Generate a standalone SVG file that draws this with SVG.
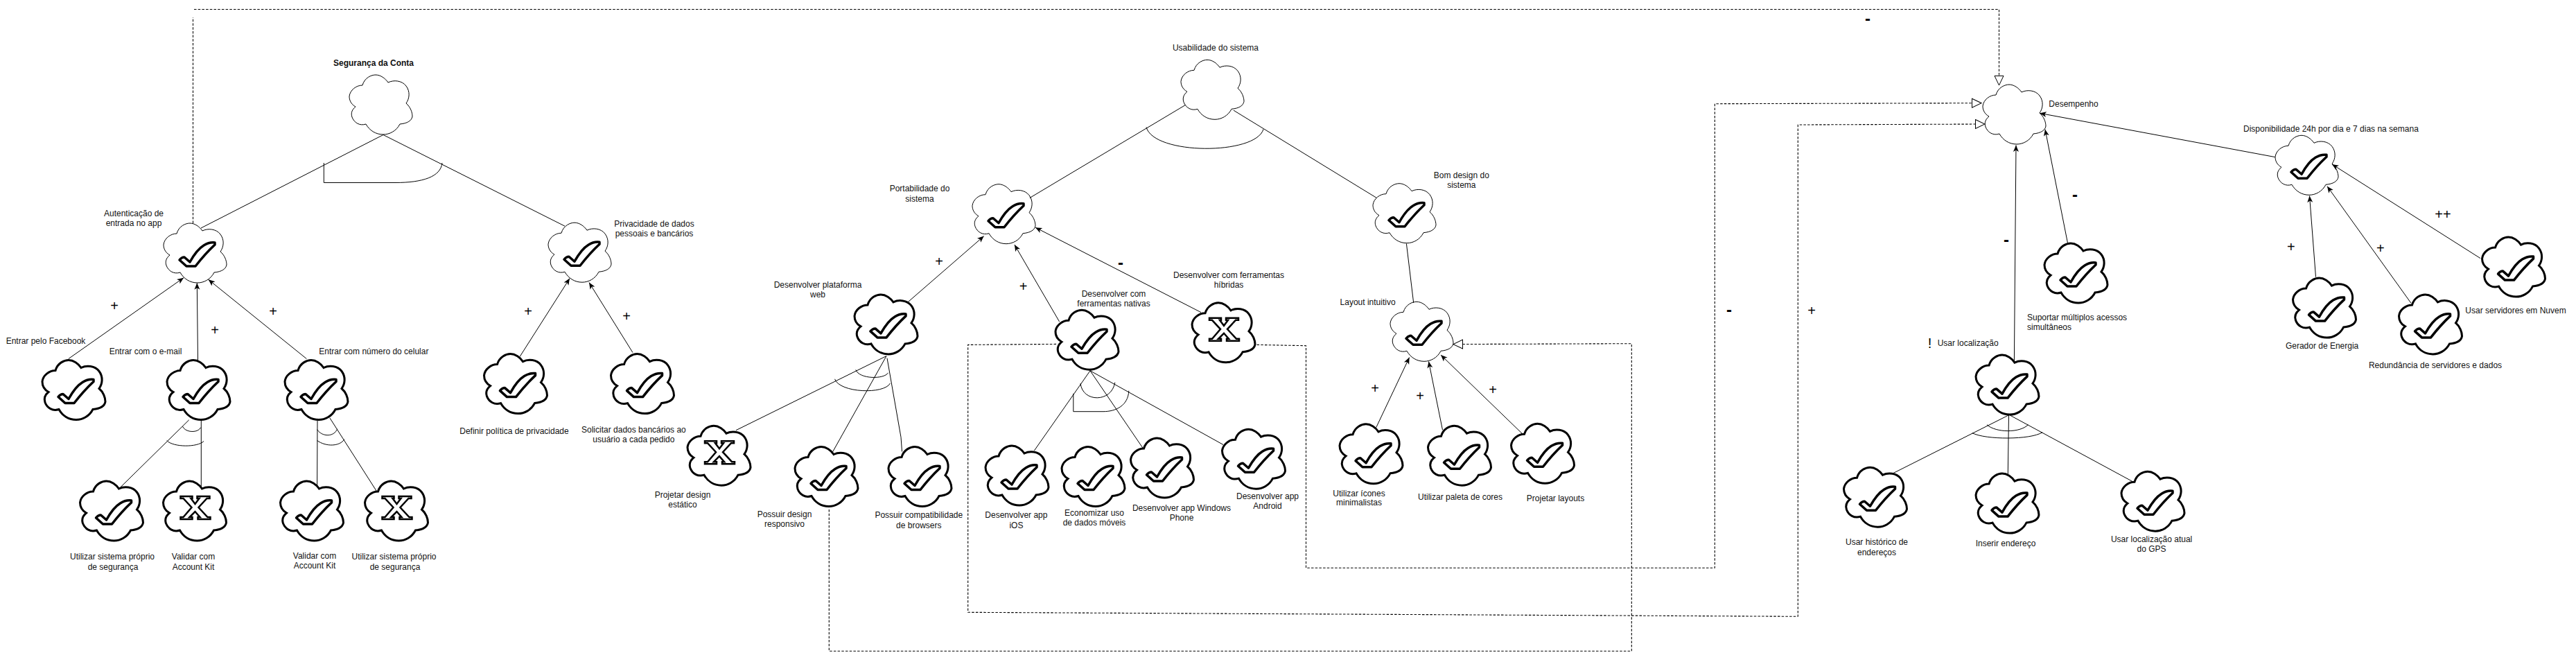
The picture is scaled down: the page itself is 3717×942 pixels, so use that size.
<svg xmlns="http://www.w3.org/2000/svg" width="3717" height="942" viewBox="0 0 3717 942">
<style>
text{font-family:"Liberation Sans",Arial,sans-serif;font-size:12px;fill:#111;text-anchor:middle}
.b{font-weight:bold}
.s{text-anchor:start}
.sg{font-size:20px;fill:#000}
.mn{font-size:24px;font-weight:bold;fill:#000}
.soft{fill:#fff;stroke:#000;stroke-width:1}
.hard{fill:#fff;stroke:#000;stroke-width:3}
.mark{fill:#fff;stroke:#000;stroke-width:3.5;stroke-linejoin:round}
.xm{fill:#fff;stroke:#000;stroke-width:2.5;stroke-linejoin:miter}
.c{fill:none;stroke:#000;stroke-width:1}
.a{fill:none;stroke:#000;stroke-width:1;marker-end:url(#arrow)}
.d{fill:none;stroke:#000;stroke-width:1.1;stroke-dasharray:3.5 2.2}
.h{fill:none;stroke:#000;stroke-width:1.1;stroke-dasharray:3.5 2.2;marker-end:url(#open)}
</style>
<defs>
<marker id="arrow" markerUnits="userSpaceOnUse" markerWidth="10" markerHeight="10" viewBox="0 0 10 10" refX="9.5" refY="5" orient="auto"><path d="M0,1 L9.5,5 L0,9 L2.5,5 Z" fill="#000"/></marker>
<marker id="open" markerUnits="userSpaceOnUse" markerWidth="16" markerHeight="16" viewBox="0 0 16 16" refX="15" refY="8" orient="auto"><path d="M1.5,1.5 L15,8 L1.5,14.5 Z" fill="#fff" stroke="#000" stroke-width="1" stroke-dasharray="none"/></marker>
<path id="cloud" d="M19,15 C22,4 32,0 38,0 C45,0 52,5 56,11 C64,7 76,8 82,16 C88,24 87,34 82,41 C88,46 91,54 91,60 C90,66 84,70 73,71 C68,81 58,86 49,86 C38,86 29,80 24,71 C15,74 7,69 4,61 C2,55 4,50 9,46 C2,42 0,36 0,31 C1,22 10,15 19,15 Z"/>
<path id="tick" d="M23,53 Q26,49 30,49 L38,56 Q48,38 58,32 Q66,27 74,28 L74,31 Q60,44 46,62 L33,62 Z"/>
<path id="cross" d="M25,22 H42 V25 H40 L46,33 L52,25 H49 V22 H67 V25 H63 L51,38 L64,52 H68 V55 H50 V52 H53 L46,44 L38,52 H42 V55 H25 V52 H29 L41,38 L29,25 H25 Z"/>
</defs>

<g id="node-seguranca"><use href="#cloud" x="504" y="108" class="soft"/><text class="b" x="539" y="94.500">Segurança da Conta</text></g>
<g id="node-autenticacao"><use href="#cloud" x="236" y="322" class="soft"/><use href="#tick" x="236" y="322" class="mark"/><text x="193" y="311.500">Autenticação de</text><text x="193" y="326">entrada no app</text></g>
<g id="node-privacidade"><use href="#cloud" x="791" y="321.200" class="soft"/><use href="#tick" x="791" y="321.200" class="mark"/><text x="944" y="326.700">Privacidade de dados</text><text x="944" y="341">pessoais e bancários</text></g>
<g id="node-facebook"><use href="#cloud" x="61" y="519.500" class="hard"/><use href="#tick" x="61" y="519.500" class="mark"/><text x="66" y="495.700">Entrar pelo Facebook</text></g>
<g id="node-email"><use href="#cloud" x="241" y="519.500" class="hard"/><use href="#tick" x="241" y="519.500" class="mark"/><text x="210" y="510.600">Entrar com o e-mail</text></g>
<g id="node-numero"><use href="#cloud" x="411" y="519.500" class="hard"/><use href="#tick" x="411" y="519.500" class="mark"/><text x="539.400" y="510.600">Entrar com número do celular</text></g>
<g id="node-sistema1"><use href="#cloud" x="115.500" y="694" class="hard"/><use href="#tick" x="115.500" y="694" class="mark"/><text x="162" y="807">Utilizar sistema próprio</text><text x="163" y="822">de segurança</text></g>
<g id="node-kit1"><use href="#cloud" x="235.500" y="694" class="hard"/><use href="#cross" x="235.500" y="694" class="xm"/><text x="279" y="807">Validar com</text><text x="279" y="822">Account Kit</text></g>
<g id="node-kit2"><use href="#cloud" x="404.500" y="694" class="hard"/><use href="#tick" x="404.500" y="694" class="mark"/><text x="454" y="806">Validar com</text><text x="454" y="820">Account Kit</text></g>
<g id="node-sistema2"><use href="#cloud" x="526.500" y="694" class="hard"/><use href="#cross" x="526.500" y="694" class="xm"/><text x="568.500" y="807">Utilizar sistema próprio</text><text x="570" y="822">de segurança</text></g>
<g id="node-definir"><use href="#cloud" x="698.500" y="510.600" class="hard"/><use href="#tick" x="698.500" y="510.600" class="mark"/><text x="742" y="625.600">Definir política de privacidade</text></g>
<g id="node-solicitar"><use href="#cloud" x="881.500" y="510.600" class="hard"/><use href="#tick" x="881.500" y="510.600" class="mark"/><text x="914.400" y="623.600">Solicitar dados bancários ao</text><text x="914.400" y="638">usuário a cada pedido</text></g>

<g id="node-usabilidade"><use href="#cloud" x="1704" y="86.300" class="soft"/><text x="1754" y="73.400">Usabilidade do sistema</text></g>
<g id="node-portabilidade"><use href="#cloud" x="1403" y="265.700" class="soft"/><use href="#tick" x="1403" y="265.700" class="mark"/><text x="1327" y="276.100">Portabilidade do</text><text x="1327" y="290.500">sistema</text></g>
<g id="node-web"><use href="#cloud" x="1233" y="424.900" class="hard"/><use href="#tick" x="1233" y="424.900" class="mark"/><text x="1180" y="415.400">Desenvolver plataforma</text><text x="1180" y="428.900">web</text></g>
<g id="node-nativas"><use href="#cloud" x="1523" y="447.200" class="hard"/><use href="#tick" x="1523" y="447.200" class="mark"/><text x="1607" y="428.300">Desenvolver com</text><text x="1607" y="442.200">ferramentas nativas</text></g>
<g id="node-hibridas"><use href="#cloud" x="1720" y="436.800" class="hard"/><use href="#cross" x="1720" y="436.800" class="xm"/><text x="1773" y="401.200">Desenvolver com ferramentas</text><text x="1773" y="415.400">híbridas</text></g>
<g id="node-estatico"><use href="#cloud" x="992" y="614.200" class="hard"/><use href="#cross" x="992" y="614.200" class="xm"/><text x="985" y="718.400">Projetar design</text><text x="985" y="732.300">estático</text></g>
<g id="node-responsivo"><use href="#cloud" x="1147" y="644.500" class="hard"/><use href="#tick" x="1147" y="644.500" class="mark"/><text x="1132" y="745.600">Possuir design</text><text x="1132" y="759.500">responsivo</text></g>
<g id="node-browsers"><use href="#cloud" x="1282" y="644.500" class="hard"/><use href="#tick" x="1282" y="644.500" class="mark"/><text x="1325.800" y="747.300">Possuir compatibilidade</text><text x="1325.800" y="761.500">de browsers</text></g>
<g id="node-ios"><use href="#cloud" x="1422" y="643" class="hard"/><use href="#tick" x="1422" y="643" class="mark"/><text x="1466.400" y="747.300">Desenvolver app</text><text x="1466.400" y="761.500">iOS</text></g>
<g id="node-economizar"><use href="#cloud" x="1532" y="644.500" class="hard"/><use href="#tick" x="1532" y="644.500" class="mark"/><text x="1579" y="743.600">Economizar uso</text><text x="1579" y="757.500">de dados móveis</text></g>
<g id="node-windows"><use href="#cloud" x="1631.500" y="632" class="hard"/><use href="#tick" x="1631.500" y="632" class="mark"/><text x="1705" y="736.700">Desenvolver app Windows</text><text x="1705" y="750.600">Phone</text></g>
<g id="node-android"><use href="#cloud" x="1763.500" y="619.200" class="hard"/><use href="#tick" x="1763.500" y="619.200" class="mark"/><text x="1829" y="719.800">Desenvolver app</text><text x="1829" y="733.700">Android</text></g>
<g id="node-bomdesign"><use href="#cloud" x="1981" y="264.700" class="soft"/><use href="#tick" x="1981" y="264.700" class="mark"/><text x="2108.800" y="256.800">Bom design do</text><text x="2108.800" y="271.300">sistema</text></g>
<g id="node-layout"><use href="#cloud" x="2006" y="435.300" class="soft"/><use href="#tick" x="2006" y="435.300" class="mark"/><text x="1973.600" y="440.200">Layout intuitivo</text></g>
<g id="node-icones"><use href="#cloud" x="1933" y="611.800" class="hard"/><use href="#tick" x="1933" y="611.800" class="mark"/><text x="1961" y="715.500">Utilizar ícones</text><text x="1961" y="729.200">minimalistas</text></g>
<g id="node-paleta"><use href="#cloud" x="2060.500" y="614.200" class="hard"/><use href="#tick" x="2060.500" y="614.200" class="mark"/><text x="2107" y="721.400">Utilizar paleta de cores</text></g>
<g id="node-layouts"><use href="#cloud" x="2180.500" y="611.300" class="hard"/><use href="#tick" x="2180.500" y="611.300" class="mark"/><text x="2244.500" y="722.600">Projetar layouts</text></g>

<g id="node-desempenho"><use href="#cloud" x="2861" y="122" class="soft"/><text x="2992" y="153.500">Desempenho</text></g>
<g id="node-disponibilidade"><use href="#cloud" x="3283" y="195.300" class="soft"/><use href="#tick" x="3283" y="195.300" class="mark"/><text x="3363.400" y="190.400">Disponibilidade 24h por dia e 7 dias na semana</text></g>
<g id="node-suportar"><use href="#cloud" x="2950" y="351" class="hard"/><use href="#tick" x="2950" y="351" class="mark"/><text class="s" x="2925" y="462">Suportar múltiplos acessos</text><text class="s" x="2925" y="475.900">simultâneos</text></g>
<g id="node-localizacao"><use href="#cloud" x="2851" y="512.100" class="hard"/><use href="#tick" x="2851" y="512.100" class="mark"/><text x="2839.700" y="498.700">Usar localização</text><text class="sg" x="2784.600" y="501.700">!</text></g>
<g id="node-historico"><use href="#cloud" x="2660.500" y="674.200" class="hard"/><use href="#tick" x="2660.500" y="674.200" class="mark"/><text x="2708" y="786.300">Usar histórico de</text><text x="2708" y="800.700">endereços</text></g>
<g id="node-inserir"><use href="#cloud" x="2851" y="683.100" class="hard"/><use href="#tick" x="2851" y="683.100" class="mark"/><text x="2894" y="788.200">Inserir endereço</text></g>
<g id="node-gps"><use href="#cloud" x="3061" y="680.200" class="hard"/><use href="#tick" x="3061" y="680.200" class="mark"/><text x="3104.600" y="782.300">Usar localização atual</text><text x="3104.600" y="796.200">do GPS</text></g>
<g id="node-gerador"><use href="#cloud" x="3308.500" y="401.100" class="hard"/><use href="#tick" x="3308.500" y="401.100" class="mark"/><text x="3350.600" y="503.300">Gerador de Energia</text></g>
<g id="node-redundancia"><use href="#cloud" x="3461.500" y="424.900" class="hard"/><use href="#tick" x="3461.500" y="424.900" class="mark"/><text x="3514" y="531.400">Redundância de servidores e dados</text></g>
<g id="node-servidores"><use href="#cloud" x="3581.500" y="342.100" class="hard"/><use href="#tick" x="3581.500" y="342.100" class="mark"/><text x="3630" y="451.600">Usar servidores em Nuvem</text></g>

<g id="connectors">
<path class="c" d="M553,194.500 L290,329 M553,194.500 L815,326.200 M467.300,235 V263.500 H570 C610,263.500 636,255 638,235"/>
<path class="a" d="M98.800,517.600 L265,400.700"/>
<path class="a" d="M285.500,519.500 L284.300,408.300"/>
<path class="a" d="M442.400,517.600 L300.700,403.300"/>
<path class="c" d="M272.700,605.800 L172.700,704 M290.300,606.800 V702 M263.600,615.300 C268,624.600 286,624.600 289.500,616.700 M240.600,635.500 C250,645.500 285,645.500 294,636.500"/>
<path class="c" d="M458,606.800 L457.600,702 M475.800,602.800 L543.600,708.900 M457.600,619.700 C465,630.600 482,630.600 486.700,618.700 M457.600,635.500 C470,644.500 490,644.500 497,633.600"/>
<path class="a" d="M750,514.600 L822,401.600"/>
<path class="a" d="M913,508.600 L850,407.500"/>
<path class="c" d="M1710.600,151.400 L1485.800,285.500 M1780,159.200 L1986.400,285.500 M1654,183.400 C1665,224 1812,224 1823,186.400"/>
<path class="a" d="M1310.600,435.300 L1419.700,340.600"/>
<path class="a" d="M1528.600,464 L1463.900,353"/>
<path class="a" d="M1733,450.600 L1494,328.200"/>
<path class="c" d="M1279,513.600 L1062,620.700 M1279,513.600 L1201.500,651.900 M1280,516.600 L1300,630.600 L1301.500,651.400 M1234.800,533.400 C1240,547.300 1276,547.300 1281.500,537.800 M1204.500,546.800 C1212,567.100 1276,569.100 1284.500,552.900"/>
<path class="c" d="M1573,534.800 L1492.400,650 M1573,534.800 L1648.800,646 M1573,534.800 L1765,641.500 M1559,552.900 C1562,581 1604,581 1608.800,551.700 M1548.800,567.800 V593.700 H1592 C1610,593.700 1628,585 1628.800,563.700"/>
<path class="c" d="M2029.400,351.500 L2039.700,436.900"/>
<path class="a" d="M1985.800,616.500 L2033.600,515.600"/>
<path class="a" d="M2081.500,620.200 L2061.500,521.500"/>
<path class="a" d="M2197,626.100 L2079,512"/>
<path class="c" d="M2731.800,682.600 L2900.300,597.900 M2898.500,598.900 L2897.300,684.100 M2900,598.900 L3076,694 M2867,612.700 C2880,624.600 2915,624.600 2926.400,612.700 M2845.800,624.600 C2865,634.600 2930,634.600 2947,623.700"/>
<path class="a" d="M2906.400,521.500 L2909,209.500"/>
<path class="a" d="M2983.400,350 L2951,186.700"/>
<path class="a" d="M3282.800,226.600 L2943.300,163.300"/>
<path class="a" d="M3341.500,399.600 L3332.500,282.600"/>
<path class="a" d="M3479,437.300 L3358,268.700"/>
<path class="a" d="M3579,372.600 L3365,237"/>
<path class="d" d="M278.500,322 V25"/>
<path class="h" d="M280,13.500 H2884.500 V123"/>
<path class="h" d="M1813.600,497.400 L1884.500,498.700 V819.300 H2474.300 V149.700 L2859,148.700"/>
<path class="h" d="M1524,496.400 L1396.700,497.400 V883.300 L2594.300,889.300 V180 L2864,179"/>
<path class="h" d="M1196.300,735 V939.300 H2354.300 V495.700 L2097,496.600"/>
<text class="sg" x="165" y="448.200">+</text><text class="sg" x="310" y="482.900">+</text><text class="sg" x="394" y="456.100">+</text>
<text class="sg" x="762" y="456.100">+</text><text class="sg" x="904" y="463">+</text>
<text class="sg" x="1355" y="384.200">+</text><text class="sg" x="1476.600" y="420.400">+</text><text class="mn" x="1617" y="386.700">-</text>
<text class="sg" x="1984" y="567.200">+</text><text class="sg" x="2049" y="578">+</text><text class="sg" x="2154" y="568.900">+</text>
<text class="mn" x="2495" y="455">-</text><text class="sg" x="2614" y="454.600">+</text><text class="mn" x="2695" y="34.700">-</text>
<text class="mn" x="2894.900" y="354">-</text><text class="mn" x="2994" y="288.500">-</text>
<text class="sg" x="3305.800" y="363.300">+</text><text class="sg" x="3434.900" y="364.500">+</text><text class="sg" x="3525" y="315.800">++</text>
</g>
</svg>
